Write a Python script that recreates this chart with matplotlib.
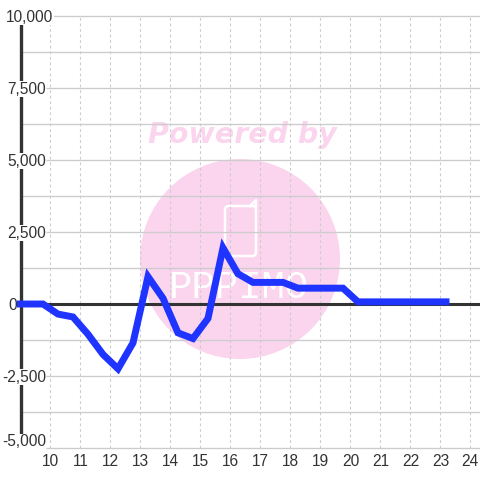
#!/usr/bin/env python3
"""Hourly line chart with a pink watermark behind it."""

import matplotlib

matplotlib.use("Agg")
import matplotlib.pyplot as plt
from matplotlib.patches import Circle, FancyBboxPatch

hours = [8.87, 9.75, 10.25, 10.75, 11.25, 11.75, 12.25, 12.75, 13.25, 13.75, 14.25, 14.75,
         15.25, 15.75, 16.25, 16.75, 17.25, 17.75, 18.25, 18.75, 19.25, 19.75, 20.25,
         20.75, 21.25, 21.75, 22.25, 22.75, 23.3]
values = [0, 0, -350, -450, -1050, -1750, -2250, -1350, 950, 200, -1000, -1200,
          -500, 1950, 1050, 750, 750, 750, 550, 550, 550, 550, 75,
          75, 75, 75, 75, 75, 75]
x_ticks = list(range(10, 25))
y_major = [10000, 7500, 5000, 2500, 0, -2500, -5000]
y_minor = [8750, 6250, 3750, 1250, -1250, -3750]
y_labels = ["10,000", "7,500", "5,000", "2,500", "0", "-2,500", "-5,000"]
y_label_px = [6, 7, 7, 7, 8, 2, 2]

DARK = "#333333"
GRID = "#cccccc"
PINK = "#fbd5ee"
BLUE = "#1f35ff"


def fx(px):
    return px / 480


def fy(py):
    return 1 - py / 480


plt.rcParams["font.family"] = ["Liberation Sans", "DejaVu Sans"]
fig = plt.figure(figsize=(4.8, 4.8), dpi=100)
ax = fig.add_axes([0, 0, 1, 1])
ax.set_xlim(8.317, 24.317)
ax.set_ylim(-6111, 10556)
ax.axis("off")

# watermark
ax.add_patch(Circle((fx(240), fy(259)), 100 / 480, transform=ax.transAxes, fc=PINK, ec="none", zorder=1))
ax.text(fx(242), fy(135), "Powered by", transform=ax.transAxes, color=PINK, fontsize=20.5,
        family="DejaVu Sans", fontweight="bold", fontstyle="italic", ha="center", va="center", zorder=1)
ax.add_patch(FancyBboxPatch((fx(225), fy(256)), 31 / 480, 50 / 480, transform=ax.transAxes,
                            boxstyle="round,pad=0,rounding_size=0.008", fc="none", ec="white",
                            lw=1.8, zorder=1))
ax.plot([fx(250), fx(256), fx(256)], [fy(206), fy(200), fy(208)], transform=ax.transAxes,
        color="white", lw=1.8, zorder=1)
ax.text(fx(239), fy(288), "PPPIMO", transform=ax.transAxes, color="white", fontsize=28,
        family="Liberation Mono", ha="center", va="center", zorder=1)

# grid
y_tf = ax.get_yaxis_transform()
ax.vlines(x_ticks, -5000, 10000, color=GRID, lw=0.8, linestyles=(0, (2.5, 2.5)), zorder=2)
ax.hlines(y_minor, fx(22), 1, transform=y_tf, color=GRID, lw=0.95, zorder=2)
ax.hlines(y_major, fx(46), 1, transform=y_tf, color=GRID, lw=0.95, zorder=2)

# axis lines
ax.plot([fx(20.5), fx(20.5)], [9722, -4583], transform=y_tf, color=DARK, lw=2.4,
        solid_capstyle="butt", zorder=3)
ax.hlines(0, fx(20), 1, transform=y_tf, color=DARK, lw=2.2, zorder=3)

ax.plot(hours, values, color=BLUE, lw=5, solid_joinstyle="miter", solid_capstyle="butt", zorder=4)

# tick labels, the lowest one sits above its line
for val, lab, px in zip(y_major, y_labels, y_label_px):
    shift = 210 if val == -5000 else -35
    ax.text(fx(px), val + shift, lab, transform=y_tf, color=DARK, fontsize=11.2, ha="left", va="center", zorder=5,
            bbox=dict(fc="white", ec="none", pad=0.3))
x_tf = ax.get_xaxis_transform()
for h in x_ticks:
    x_pos = h if h < 24 else 23.99
    ax.text(x_pos, fy(461.5), str(h), transform=x_tf, color=DARK, fontsize=11.2, ha="center", va="center", zorder=5)

fig.savefig("out.png", dpi=100, facecolor="white")
